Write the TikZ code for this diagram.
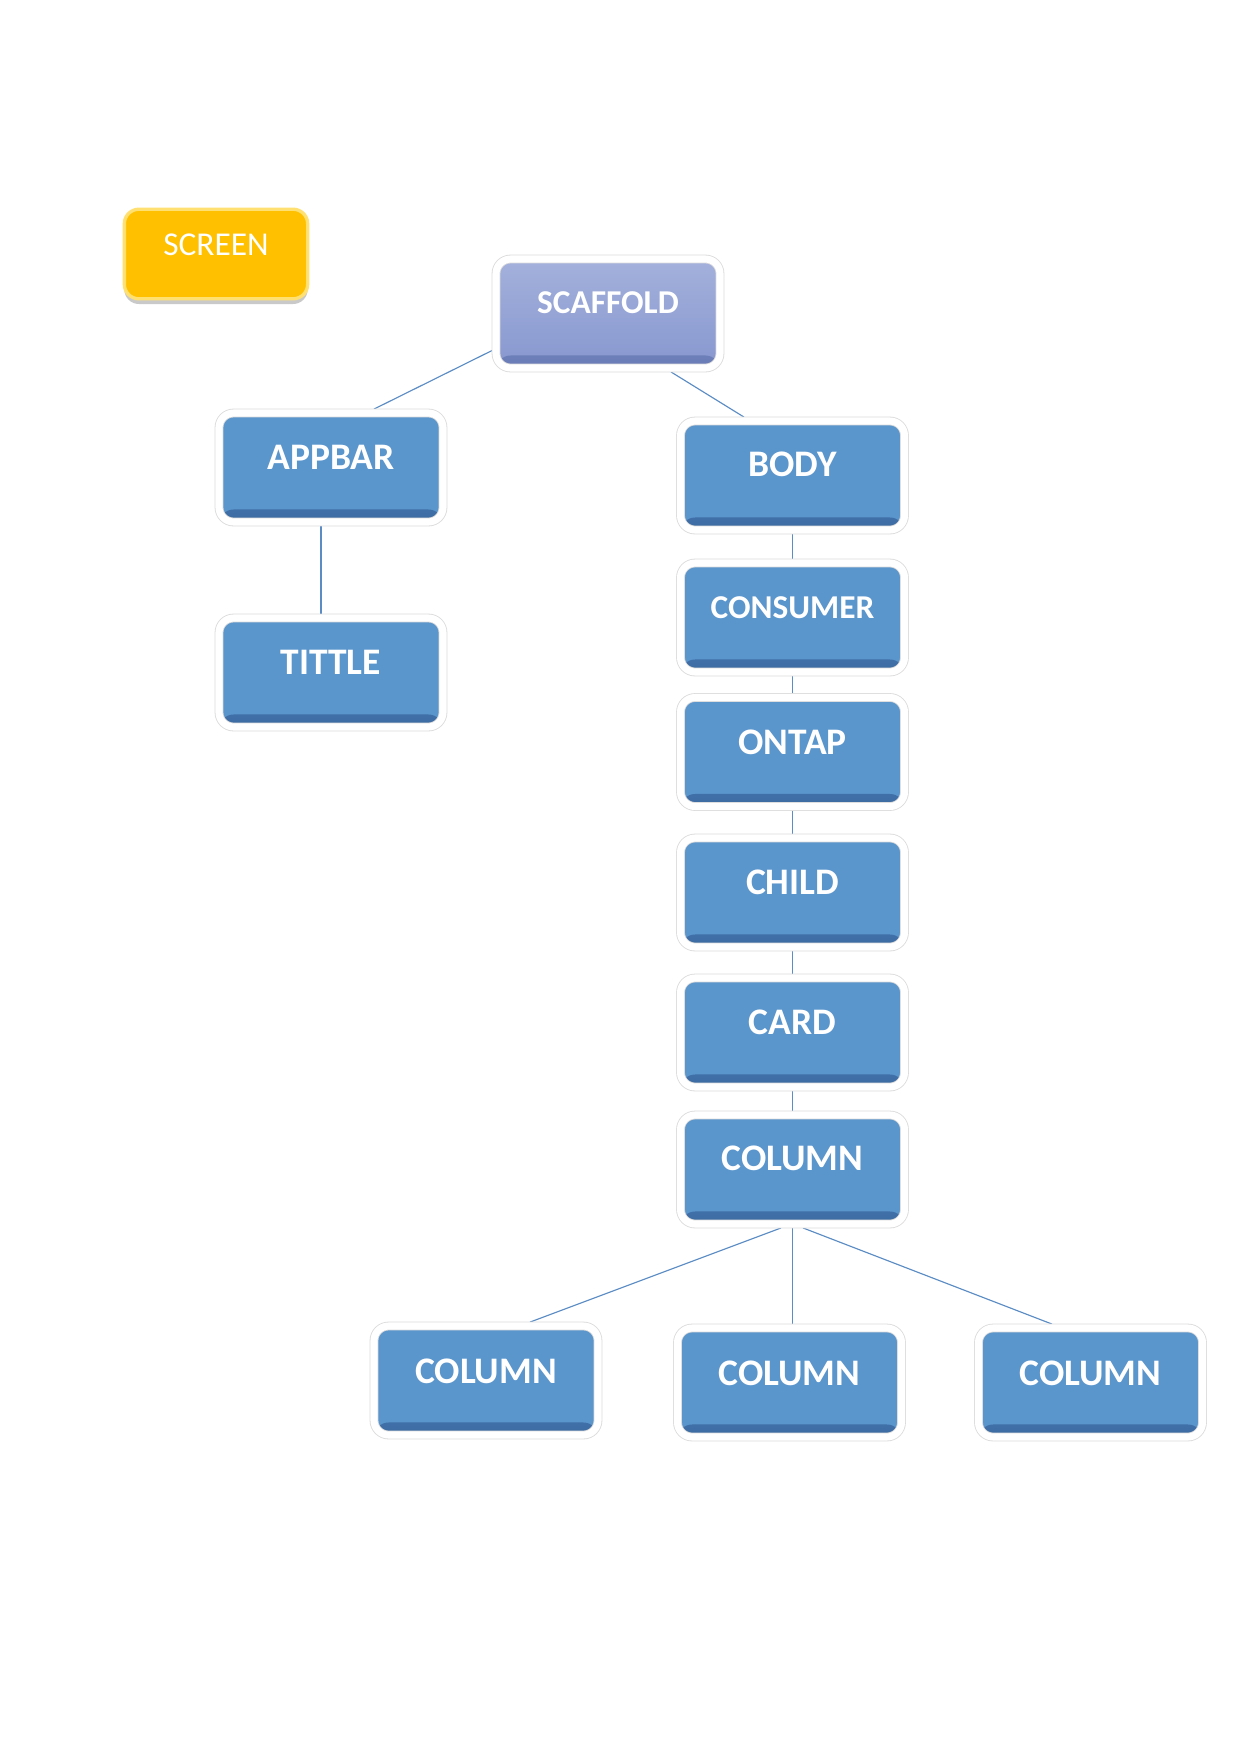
\documentclass[tikz,border=0pt]{standalone}
\usepackage{fontspec}
\setmainfont{Carlito}
\usetikzlibrary{calc,shadows,backgrounds}
\definecolor{boxblue}{HTML}{5A95CC}
\definecolor{bluedark}{HTML}{3C6BA2}
\definecolor{scaftop}{HTML}{A4B1DC}
\definecolor{scafbot}{HTML}{8797CF}
\definecolor{scafdark}{HTML}{6A7CB6}
\definecolor{screenyellow}{HTML}{FFC000}
\definecolor{screenlight}{HTML}{FFE070}
\definecolor{connblue}{HTML}{5B8CC4}
\begin{document}
\begin{tikzpicture}[x=0.48pt,y=-0.48pt,
  base/.style={rounded corners=7pt, minimum width=107.5pt, minimum height=52.3pt,
    inner sep=0pt, outer sep=1.9pt, draw=black!14, line width=0.4pt,
    double=white, double distance=3.4pt},
  bluebox/.style={base, fill=boxblue,
    path picture={\shade[top color=boxblue, bottom color=bluedark]
      ([yshift=6pt]path picture bounding box.south west) rectangle (path picture bounding box.south east);}},
  scafbox/.style={base, top color=scaftop, bottom color=scafbot,
    path picture={\shade[top color=scafbot, bottom color=scafdark]
      ([yshift=6pt]path picture bounding box.south west) rectangle (path picture bounding box.south east);}},
  screenbox/.style={rounded corners=7pt, minimum width=88pt, minimum height=43pt,
    inner sep=0pt, fill=screenyellow, draw=screenlight, line width=1.6pt,
    drop shadow={shadow xshift=0pt, shadow yshift=-2.5pt, opacity=0.35, fill=black!60}},
  lbl/.style={text=white, inner sep=0pt, font=\bfseries\fontsize{18}{20}\selectfont},
  lblsmall/.style={text=white, inner sep=0pt, font=\bfseries\fontsize{16}{18}\selectfont},
  lblscreen/.style={text=white, inner sep=0pt, font=\fontsize{16}{18}\selectfont},
  conn/.style={draw=connblue, line width=0.55pt}]
\begin{scope}[on background layer]
\fill[white] (0,0) rectangle (1241,1754);
\end{scope}
\useasboundingbox (0,0) rectangle (1241,1754);

% boxes
\node[screenbox] (screen) at (216,254) {};
\node[lblscreen] (t-screen) at ($(screen.center)+(0,-9)$) {SCREEN};

\node[scafbox] (scaffold) at (608,313.5) {};
\node[lblsmall] (t-scaffold) at ($(scaffold.center)+(0,-10.5)$) {SCAFFOLD};

\node[bluebox] (appbar) at (331,467.5) {};
\node[lbl] (t-appbar) at ($(appbar.center)+(0,-10.5)$) {APPBAR};

\node[bluebox] (tittle) at (331,672.5) {};
\node[lbl] (t-tittle) at ($(tittle.center)+(0,-10.5)$) {TITTLE};

\node[bluebox] (body) at (792.5,475.5) {};
\node[lbl] (t-body) at ($(body.center)+(0,-11)$) {BODY};

\node[bluebox] (consumer) at (792.5,617.5) {};
\node[lblsmall] (t-consumer) at ($(consumer.center)+(0,-9.5)$) {CONSUMER};

\node[bluebox] (ontap) at (792.5,752) {};
\node[lbl] (t-ontap) at ($(ontap.center)+(0,-10)$) {ONTAP};

\node[bluebox] (child) at (792.5,892.5) {};
\node[lbl] (t-child) at ($(child.center)+(0,-10)$) {CHILD};

\node[bluebox] (card) at (792.5,1032.5) {};
\node[lbl] (t-card) at ($(card.center)+(0,-10)$) {CARD};

\node[bluebox] (column) at (792.5,1169.5) {};
\node[lbl] (t-column) at ($(column.center)+(0,-11)$) {COLUMN};

\node[bluebox] (colA) at (486,1380.5) {};
\node[lbl] (t-colA) at ($(colA.center)+(0,-9)$) {COLUMN};

\node[bluebox] (colB) at (789.5,1382.5) {};
\node[lbl] (t-colB) at ($(colB.center)+(0,-9)$) {COLUMN};

\node[bluebox] (colC) at (1090.5,1382.5) {};
\node[lbl] (t-colC) at ($(colC.center)+(0,-9)$) {COLUMN};

% connectors
\begin{scope}[on background layer]
\draw[conn] ($(scaffold.west)+(0,37)$) -- ($(appbar.north)+(43,0)$);
\draw[conn] ($(scaffold.south)+(63,0)$) -- ($(body.north)+(-48.5,0)$);
\draw[conn] ($(appbar.south)+(-10,0)$) -- ($(tittle.north)+(-10,0)$);
\draw[conn] (body.south) -- (consumer.north);
\draw[conn] (consumer.south) -- (ontap.north);
\draw[conn] (ontap.south) -- (child.north);
\draw[conn] (child.south) -- (card.north);
\draw[conn] (card.south) -- (column.north);
\draw[conn] ($(column.south)+(-11.5,0)$) -- ($(colA.north)+(44,0)$);
\draw[conn] (column.south) -- (column.south |- colB.north);
\draw[conn] ($(column.south)+(10.5,0)$) -- ($(colC.north)+(-38.5,0)$);
\end{scope}
\end{tikzpicture}
\end{document}
